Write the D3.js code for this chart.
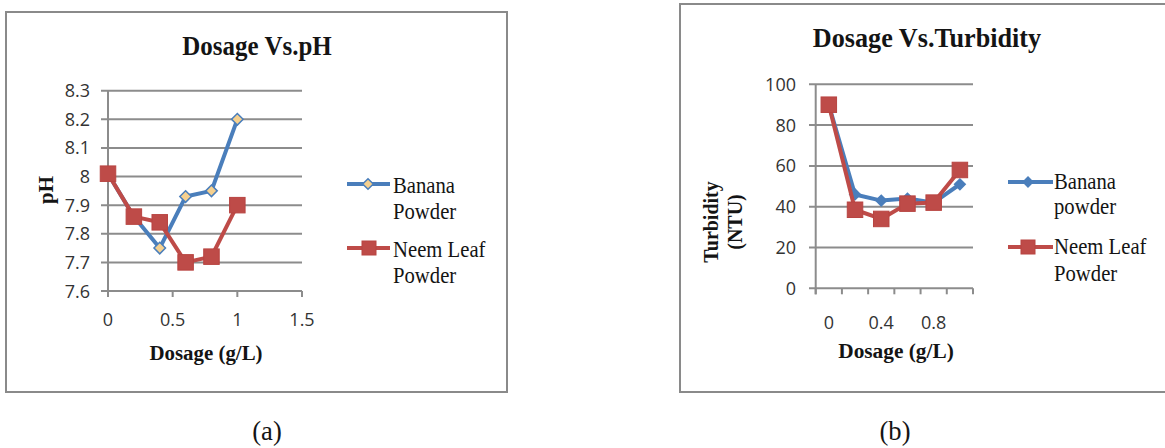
<!DOCTYPE html>
<html><head><meta charset="utf-8">
<script src="https://cdn.jsdelivr.net/npm/d3@7"></script>
<style>body{margin:0;background:#fff}svg{display:block}</style>
</head><body>
<svg id="c" width="1165" height="448"></svg>
<script>
// ---- data ----
const dosageA = [0, 0.2, 0.4, 0.6, 0.8, 1];
const bananaPH = [8.01, 7.86, 7.75, 7.93, 7.95, 8.2];
const neemPH = [8.01, 7.86, 7.84, 7.70, 7.72, 7.90];
const phTicks = [7.6, 7.7, 7.8, 7.9, 8, 8.1, 8.2, 8.3];
const dosageTicksA = [0, 0.5, 1, 1.5];

const dosageB = ["0", "0.2", "0.4", "0.6", "0.8", "1"];
const bananaTurb = [90, 46, 43, 44, 42, 51];
const neemTurb = [90, 38.5, 34, 41.5, 42, 58];
const turbTicks = [0, 20, 40, 60, 80, 100];
const dosageLabelsB = ["0", "0.4", "0.8"];

const BLUE = "#4a7ebb", RED = "#be4b48", TAN = "#f5d08f", GRID = "#8c8c8c";
const SERIF = "'Liberation Serif','Times New Roman',serif";
const SANS = "'Open Sans',Lato,sans-serif";

const svg = d3.select("#c");

function frame(x, y, w, h) {
  svg.append("rect").attr("x", x).attr("y", y).attr("width", w).attr("height", h)
    .attr("fill", "#fff").attr("stroke", "#8a8a8a").attr("stroke-width", 2);
}
function diamond(g, cx, cy, diag, fill, stroke) {
  const side = diag / Math.SQRT2;
  g.append("path").attr("d", d3.symbol(d3.symbolDiamond2, side * side)())
    .attr("transform", `translate(${cx},${cy})`).attr("fill", fill).attr("stroke", stroke).attr("stroke-width", 1.5);
}
function square(g, cx, cy, s) {
  g.append("rect").attr("x", cx - s / 2).attr("y", cy - s / 2).attr("width", s).attr("height", s)
    .attr("fill", RED).attr("stroke", "#b84441").attr("stroke-width", 1);
}
function text(t, x, y, opts) {
  const e = svg.append("text").attr("x", 0).attr("y", 0).text(t)
    .attr("font-family", opts.family || SERIF).attr("font-size", opts.size)
    .attr("font-weight", opts.weight || "normal").attr("text-anchor", opts.anchor || "start")
    .attr("fill", "#141414")
    .attr("transform", `translate(${x},${y}) rotate(${opts.rotate ? -90 : 0}) scale(${opts.sx || 1},1)`);
  return e;
}

// ================= Chart (a) =================
frame(6, 12, 501, 380);
const xA = d3.scaleLinear().domain([0, 1.5]).range([108, 302]);
const yA = d3.scaleLinear().domain([7.6, 8.3]).range([291, 90.7]);
const gA = svg.append("g");
gA.selectAll(".g").data(phTicks).join("line")
  .attr("x1", 101).attr("x2", 302).attr("y1", d => yA(d)).attr("y2", d => yA(d))
  .attr("stroke", GRID).attr("stroke-width", 2);
gA.append("line").attr("x1", xA(0)).attr("x2", xA(0)).attr("y1", yA(8.3)).attr("y2", yA(7.6) + 6)
  .attr("stroke", GRID).attr("stroke-width", 2);
gA.selectAll(".xt").data(dosageTicksA).join("line")
  .attr("x1", d => xA(d)).attr("x2", d => xA(d)).attr("y1", yA(7.6)).attr("y2", yA(7.6) + 6)
  .attr("stroke", GRID).attr("stroke-width", 2);
gA.selectAll(".yl").data(phTicks).join("text")
  .attr("x", 90).attr("y", d => yA(d) + 6.5).attr("text-anchor", "end")
  .attr("font-family", SANS).attr("font-size", 18).attr("fill", "#333").text(d => d3.format("")(d));
gA.selectAll(".xl").data(dosageTicksA).join("text")
  .attr("x", d => xA(d)).attr("y", 326).attr("text-anchor", "middle")
  .attr("font-family", SANS).attr("font-size", 18).attr("fill", "#333").text(d => d3.format("")(d));
const lineA = (vals) => d3.line().x((d, i) => xA(dosageA[i])).y(d => yA(d))(vals);
gA.append("path").attr("d", lineA(bananaPH)).attr("fill", "none").attr("stroke", BLUE).attr("stroke-width", 4).attr("stroke-linejoin", "round");
bananaPH.forEach((v, i) => diamond(gA, xA(dosageA[i]), yA(v), 13, TAN, BLUE));
gA.append("path").attr("d", lineA(neemPH)).attr("fill", "none").attr("stroke", RED).attr("stroke-width", 4).attr("stroke-linejoin", "round");
neemPH.forEach((v, i) => square(gA, xA(dosageA[i]), yA(v), 15.5));
text("Dosage Vs.pH", 257, 55, {size: 27, weight: "bold", anchor: "middle", sx: 0.925});
text("Dosage (g/L)", 206, 360, {size: 22, weight: "bold", anchor: "middle", sx: 0.95});
text("pH", 53, 190, {size: 22, weight: "bold", anchor: "middle", rotate: true, sx: 0.95});
gA.append("line").attr("x1", 347).attr("x2", 390).attr("y1", 184).attr("y2", 184).attr("stroke", BLUE).attr("stroke-width", 4);
diamond(gA, 368, 184, 12, TAN, BLUE);
text("Banana", 393, 193, {size: 22.5, sx: 0.92});
text("Powder", 393, 218.5, {size: 22.5, sx: 0.92});
gA.append("line").attr("x1", 347).attr("x2", 390).attr("y1", 248).attr("y2", 248).attr("stroke", RED).attr("stroke-width", 4);
square(gA, 369, 248, 14);
text("Neem Leaf", 393, 257, {size: 22.5, sx: 0.92});
text("Powder", 393, 283, {size: 22.5, sx: 0.92});
text("(a)", 267, 440, {size: 28, anchor: "middle", sx: 0.95});

// ================= Chart (b) =================
frame(680, 4, 500, 388);
const xB = d3.scaleBand().domain(dosageB).range([815.7, 973]);
const yB = d3.scaleLinear().domain([0, 100]).range([288.3, 84.3]);
const gB = svg.append("g");
gB.selectAll(".g").data(turbTicks).join("line")
  .attr("x1", 809).attr("x2", 973).attr("y1", d => yB(d)).attr("y2", d => yB(d))
  .attr("stroke", GRID).attr("stroke-width", 2);
gB.append("line").attr("x1", 815.7).attr("x2", 815.7).attr("y1", yB(100)).attr("y2", yB(0) + 6)
  .attr("stroke", GRID).attr("stroke-width", 2);
const bounds = dosageB.map(d => xB(d)).concat([xB.range()[1]]);
gB.selectAll(".xt").data(bounds).join("line")
  .attr("x1", d => d).attr("x2", d => d).attr("y1", yB(0)).attr("y2", yB(0) + 6)
  .attr("stroke", GRID).attr("stroke-width", 2);
gB.selectAll(".yl").data(turbTicks).join("text")
  .attr("x", 796).attr("y", d => yB(d) + 6.5).attr("text-anchor", "end")
  .attr("font-family", SANS).attr("font-size", 18).attr("fill", "#333").text(d => d);
gB.selectAll(".xl").data(dosageLabelsB).join("text")
  .attr("x", d => xB(d) + xB.bandwidth() / 2).attr("y", 329).attr("text-anchor", "middle")
  .attr("font-family", SANS).attr("font-size", 18).attr("fill", "#333").text(d => d);
const cx = d => xB(d) + xB.bandwidth() / 2;
const lineB = (vals) => d3.line().x((d, i) => cx(dosageB[i])).y(d => yB(d))(vals);
gB.append("path").attr("d", lineB(bananaTurb)).attr("fill", "none").attr("stroke", BLUE).attr("stroke-width", 4).attr("stroke-linejoin", "round");
bananaTurb.forEach((v, i) => diamond(gB, cx(dosageB[i]), yB(v), 12, BLUE, BLUE));
gB.append("path").attr("d", lineB(neemTurb)).attr("fill", "none").attr("stroke", RED).attr("stroke-width", 4).attr("stroke-linejoin", "round");
neemTurb.forEach((v, i) => square(gB, cx(dosageB[i]), yB(v), 15.5));
text("Dosage Vs.Turbidity", 927, 47, {size: 27, weight: "bold", anchor: "middle", sx: 0.97});
text("Dosage (g/L)", 896, 358, {size: 22, weight: "bold", anchor: "middle", sx: 0.97});
text("Turbidity", 718, 222, {size: 21, weight: "bold", anchor: "middle", rotate: true, sx: 0.95});
text("(NTU)", 742, 222, {size: 21, weight: "bold", anchor: "middle", rotate: true, sx: 0.95});
gB.append("line").attr("x1", 1008).attr("x2", 1053).attr("y1", 182).attr("y2", 182).attr("stroke", BLUE).attr("stroke-width", 4);
diamond(gB, 1028, 182, 11, BLUE, BLUE);
text("Banana", 1054, 189, {size: 22.5, sx: 0.92});
text("powder", 1054, 214, {size: 22.5, sx: 0.92});
gB.append("line").attr("x1", 1008).attr("x2", 1053).attr("y1", 247).attr("y2", 247).attr("stroke", RED).attr("stroke-width", 4);
square(gB, 1028, 247, 14);
text("Neem Leaf", 1054, 254, {size: 22.5, sx: 0.92});
text("Powder", 1054, 281, {size: 22.5, sx: 0.92});
text("(b)", 895, 440, {size: 28, anchor: "middle", sx: 0.95});
</script>
</body></html>
